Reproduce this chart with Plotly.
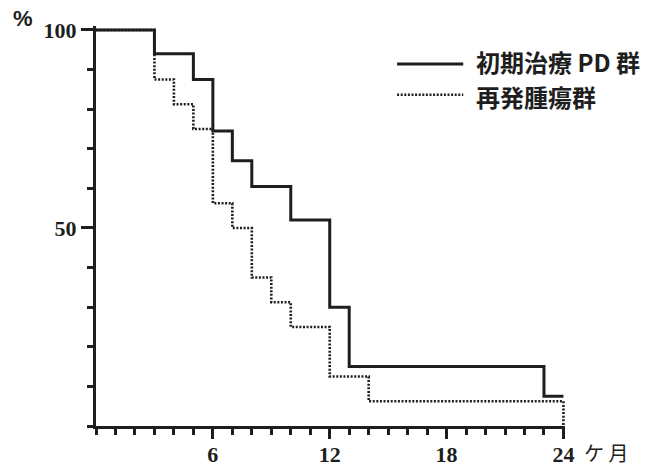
import plotly.graph_objects as go

# Kaplan-Meier style survival steps (months, % surviving)
months_initial = [0, 3, 5, 6, 7, 8, 10, 12, 13, 23, 24]
surv_initial = [100, 94, 87.5, 74.5, 67, 60.5, 52, 30, 15, 7.5, 7.5]

months_relapse = [0, 3, 4, 5, 6, 7, 8, 9, 10, 12, 14, 24, 24]
surv_relapse = [100, 87.5, 81.25, 75, 56.25, 50, 37.5, 31.25, 25, 12.5, 6.25, 6.25, 0]

series_names = ["初期治療 PD 群", "再発腫瘍群"]
x_tick_vals = [6, 12, 18, 24]
x_tick_text = ["6", "12", "18", "24"]
y_tick_vals = [50, 100]
y_tick_text = ["50", "100"]

INK = "#1e1e1e"
SERIF = "Liberation Serif"
CJK = "Noto Sans CJK JP"

fig = go.Figure()
fig.add_trace(go.Scatter(
    x=months_initial, y=surv_initial, mode="lines", name=series_names[0],
    line=dict(shape="hv", color=INK, width=3), showlegend=False,
))
fig.add_trace(go.Scatter(
    x=months_relapse, y=surv_relapse, mode="lines", name=series_names[1],
    line=dict(shape="hv", color=INK, width=2.6, dash="2px,1.6px"), showlegend=False,
))

# hand-drawn legend to the upper right of the plot
legend_rows = [(0.905, "solid", 3), (0.828, "2px,1.6px", 2.6)]
for (ly, dash, w), name, ty in zip(legend_rows, series_names, [0.912, 0.823]):
    fig.add_shape(type="line", xref="paper", yref="paper",
                  x0=0.642, x1=0.783, y0=ly, y1=ly,
                  line=dict(color=INK, width=w, dash=dash))
    fig.add_annotation(xref="paper", yref="paper", x=0.806, y=ty,
                       xanchor="left", yanchor="middle", showarrow=False,
                       text=f"<b>{name}</b>",
                       font=dict(family=CJK, size=24, color=INK))

# unit labels
fig.add_annotation(xref="paper", yref="paper", x=0, y=1, xanchor="center",
                   yanchor="middle", xshift=-73, yshift=8, showarrow=False,
                   text="<b>%</b>", font=dict(family="Liberation Sans", size=22, color=INK))
fig.add_annotation(xref="x", yref="paper", x=24, y=0, xanchor="left",
                   yanchor="middle", xshift=19, yshift=-26, showarrow=False,
                   text="ケ 月", font=dict(family=CJK, size=20, color=INK))

fig.update_xaxes(
    range=[0, 24.08], showgrid=False, zeroline=False, automargin=False,
    showline=True, linewidth=3, linecolor=INK,
    tickvals=x_tick_vals, ticktext=[f"<b>{t}</b>" for t in x_tick_text],
    ticks="outside", ticklen=10, tickwidth=2.5, tickcolor=INK,
    ticklabelstandoff=-3,
    tickfont=dict(family=SERIF, size=22, color=INK),
    minor=dict(dtick=1, tick0=0, ticks="outside", ticklen=6, tickwidth=2.5, tickcolor=INK),
)
fig.update_yaxes(
    range=[0, 101], showgrid=False, zeroline=False, automargin=False,
    showline=True, linewidth=3, linecolor=INK,
    tickvals=y_tick_vals, ticktext=[f"<b>{t}</b>" for t in y_tick_text],
    ticks="outside", ticklen=12, tickwidth=2.5, tickcolor=INK,
    tickfont=dict(family=SERIF, size=22, color=INK),
    minor=dict(dtick=10, tick0=0, ticks="outside", ticklen=6, tickwidth=2.5, tickcolor=INK),
)

fig.update_layout(
    width=649, height=470,
    margin=dict(l=96, r=84, t=26, b=44),
    paper_bgcolor="white", plot_bgcolor="white",
    showlegend=False,
)

fig.write_html("out.html")
